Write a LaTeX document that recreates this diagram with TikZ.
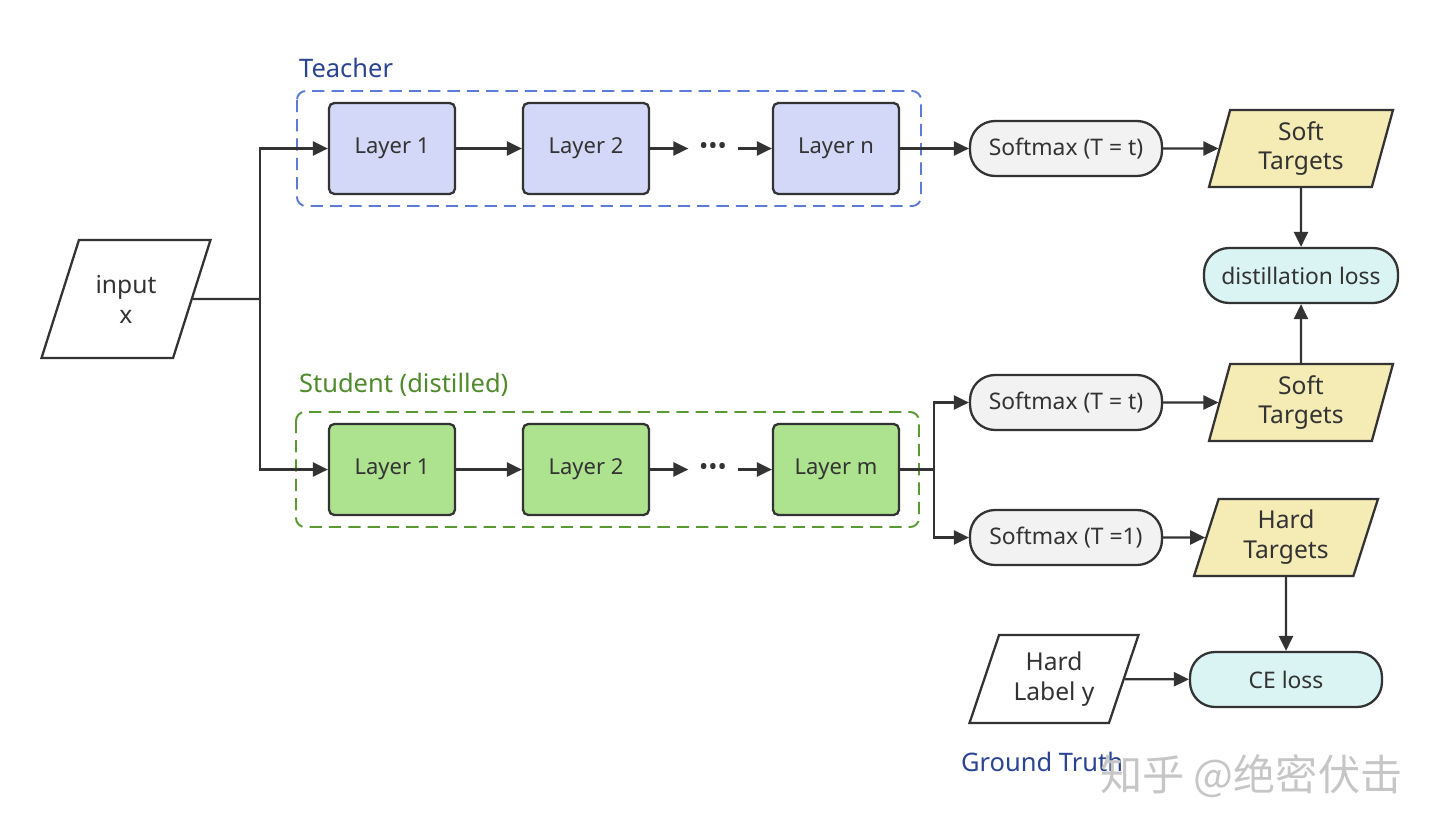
\documentclass[tikz,border=0pt]{standalone}
\usepackage{fontspec}
\setmainfont{Noto Sans}
\newfontfamily\cjk{Noto Sans CJK SC}
\usetikzlibrary{arrows.meta,shapes.geometric}

\definecolor{linegray}{HTML}{333333}
\definecolor{teacherfill}{HTML}{D3D8F8}
\definecolor{studentfill}{HTML}{ADE28F}
\definecolor{softfill}{HTML}{F2F2F2}
\definecolor{targetfill}{HTML}{F5EBB5}
\definecolor{lossfill}{HTML}{DAF4F4}
\definecolor{teacherdash}{HTML}{5B7BD6}
\definecolor{teachertext}{HTML}{2B4492}
\definecolor{studentdash}{HTML}{5A9A32}
\definecolor{studenttext}{HTML}{4E8A2B}

\begin{document}
\begin{tikzpicture}[x=0.02cm, y=-0.02cm,
	line width=1.3pt,
	arr/.style={draw=linegray, -{Triangle[length=8.5pt, width=8pt]}},
	wire/.style={draw=linegray},
	layerbox/.style={draw=linegray, rounded corners=3pt, minimum width=2.52cm, minimum height=1.82cm, text=linegray, font=\fontsize{12.5}{14}\selectfont},
	softbox/.style={draw=linegray, fill=softfill, rounded corners=0.5cm, minimum width=3.84cm, minimum height=1.1cm, text=linegray, font=\fontsize{13}{15}\selectfont},
	lossbox/.style={draw=linegray, fill=lossfill, rounded corners=0.5cm, minimum height=1.1cm, text=linegray, font=\fontsize{13}{15}\selectfont},
	databox/.style={draw=linegray, trapezium, trapezium stretches body, align=center, inner sep=1pt, text=linegray, font=\fontsize{14}{17}\selectfont},
	dotsbox/.style={minimum width=0.94cm, inner sep=0pt, text=linegray, font=\fontsize{14}{16}\selectfont\bfseries},
	grouplabel/.style={anchor=base west, inner sep=0pt, font=\fontsize{14.5}{17}\selectfont}
	]
	
	\useasboundingbox (0,0) rectangle (1440,835);
	
	% input
	\node[databox, trapezium left angle=54, trapezium right angle=126, minimum width=3.38cm, minimum height=2.36cm] (input) at (126,299) {input\\x};
	
	% Teacher group
	\draw[teacherdash, line width=1.1pt, dash pattern=on 7pt off 4pt, rounded corners=5pt] (297,91) rectangle (921,206);
	\node[grouplabel, text=teachertext] (teacherlbl) at (298,77) {Teacher};
	\node[layerbox, fill=teacherfill] (tL1) at (392,148.5) {Layer 1};
	\node[layerbox, fill=teacherfill] (tL2) at (586,148.5) {Layer 2};
	\node[dotsbox] (tdots) at (713,148.5) {•••};
	\node[layerbox, fill=teacherfill] (tLn) at (836,148.5) {Layer n};
	
	% Student group
	\draw[studentdash, line width=1.1pt, dash pattern=on 7pt off 4pt, rounded corners=5pt] (296,412) rectangle (919,527);
	\node[grouplabel, text=studenttext] (studentlbl) at (298,392) {Student (distilled)};
	\node[layerbox, fill=studentfill] (sL1) at (392,469.5) {Layer 1};
	\node[layerbox, fill=studentfill] (sL2) at (586,469.5) {Layer 2};
	\node[dotsbox] (sdots) at (713,469.5) {•••};
	\node[layerbox, fill=studentfill] (sLm) at (836,469.5) {Layer m};
	
	% Softmax nodes
	\node[softbox] (smT) at (1066,148.5) {Softmax (T = t)};
	\node[softbox] (smS) at (1066,402.5) {Softmax (T = t)};
	\node[softbox] (smH) at (1066,537.5) {Softmax (T =1)};
	
	% targets
	\node[databox, fill=targetfill, trapezium left angle=70, trapezium right angle=110, minimum width=3.68cm, minimum height=1.54cm] (stT) at (1301,148.5) {Soft\\Targets};
	\node[databox, fill=targetfill, trapezium left angle=70, trapezium right angle=110, minimum width=3.68cm, minimum height=1.54cm] (stS) at (1301,402.5) {Soft\\Targets};
	\node[databox, fill=targetfill, trapezium left angle=67, trapezium right angle=113, minimum width=3.68cm, minimum height=1.54cm] (htS) at (1286,537.5) {Hard\\Targets};
	
	% losses
	\node[lossbox, minimum width=3.88cm] (distloss) at (1301,275.5) {distillation loss};
	\node[lossbox, minimum width=3.84cm] (celoss) at (1286,679.5) {CE loss};
	\node[databox, trapezium left angle=63, trapezium right angle=117, minimum width=3.38cm, minimum height=1.76cm] (hlabel) at (1054,679) {Hard\\Label y};
	\node[grouplabel, text=teachertext] (gtlbl) at (960,771) {Ground Truth};
	
	% Connecting lines
	\coordinate (split) at (260,299);
	\coordinate (fork) at (934,469.5);
	\draw[wire] (input.east) -- (split);
	\draw[arr] (split) |- (tL1.west);
	\draw[arr] (split) |- (sL1.west);
	\draw[arr] (tL1) -- (tL2);
	\draw[arr] (tL2) -- (tdots);
	\draw[arr] (tdots) -- (tLn);
	\draw[arr] (tLn) -- (smT);
	\draw[arr] (sL1) -- (sL2);
	\draw[arr] (sL2) -- (sdots);
	\draw[arr] (sdots) -- (sLm);
	\draw[wire] (sLm) -- (fork);
	\draw[arr] (fork) |- (smS.west);
	\draw[arr] (fork) |- (smH.west);
	\draw[arr] (smT) -- (stT);
	\draw[arr] (smS) -- (stS);
	\draw[arr] (smH) -- (htS);
	\draw[arr] (stT) -- (distloss);
	\draw[arr] (stS) -- (distloss);
	\draw[arr] (htS) -- (celoss);
	\draw[arr] (hlabel) -- (celoss);
	
	% watermark
	\node[anchor=base west, text=gray!45, font=\cjk\fontsize{24}{28}\selectfont] (mark) at (1093,790) {知乎 @绝密伏击};
\end{tikzpicture}
\end{document}
